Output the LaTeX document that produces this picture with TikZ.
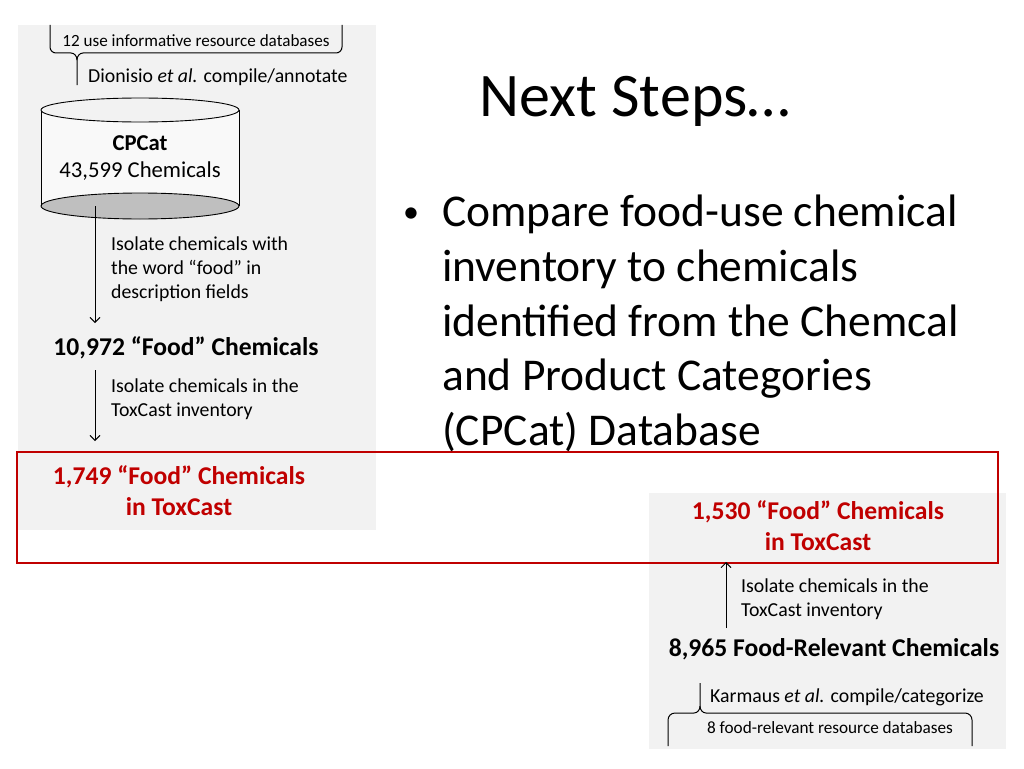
\documentclass[tikz,border=0pt]{standalone}
\usepackage{fontspec}
\setmainfont{Carlito}
\usetikzlibrary{arrows.meta}
\definecolor{panel}{HTML}{F2F2F2}
\definecolor{dbgray}{HTML}{BFBFBF}
\definecolor{redbox}{HTML}{C00000}
\begin{document}
\begin{tikzpicture}[x=1pt,y=-1pt,
  lab/.style={inner sep=0pt,anchor=west,align=left,font=\fontsize{19.8}{24}\selectfont},
  big/.style={inner sep=0pt,font=\fontsize{25.6}{31}\selectfont\bfseries},
  redlab/.style={big,text=redbox,align=center},
  flow/.style={line width=0.9pt,-{Straight Barb[length=5pt,width=10pt]}},
  brace/.style={line width=1pt}]
\useasboundingbox (0,0) rectangle (1024,768);
\fill[white] (0,0) rectangle (1024,768);
% panels
\fill[panel] (18,25) rectangle (376,530);
\fill[panel] (649,493) rectangle (1006,749);
% top brace
\node[lab,anchor=center,font=\fontsize{17.1}{20}\selectfont] (db12) at (196,41) {12 use informative resource databases};
\draw[brace] (50,25) -- (50,47) to[out=-90,in=180] (56,53) -- (71,53) to[out=0,in=90] (77,60) -- (77,85);
\draw[brace] (77,60) to[out=90,in=180] (83,53) -- (336,53) to[out=0,in=-90] (342,47) -- (342,25);
\node[lab] (dion) at (88,77) {Dionisio \textit{et al.} compile/annotate};
% cylinder
\fill[white!50!panel] (41,110) -- (41,206) arc[start angle=180,end angle=360,x radius=99,y radius=13] -- (239,110) -- cycle;
\draw[line width=0.9pt,fill=dbgray] (140,206) ellipse[x radius=99,y radius=13];
\draw[line width=0.9pt] (41,110) -- (41,206) (239,110) -- (239,206);
\draw[line width=0.9pt,fill=panel] (140,110) ellipse[x radius=99,y radius=12];
\node[inner sep=0pt,align=center,font=\fontsize{22.7}{27}\selectfont] (cpcat) at (140,158) {\textbf{CPCat}\\43,599 Chemicals};
\coordinate (a1s) at (95,206);
\node[big] (f10972) at (186,348) {10,972 “Food” Chemicals};
\coordinate (a1e) at (95,323);
\draw[flow] (a1s) -- (a1e);
\node[lab] (iso1) at (111,269) {Isolate chemicals with\\the word “food” in\\description fields};
\coordinate (a2s) at (95,370);
\coordinate (a2e) at (95,441);
\draw[flow] (a2s) -- (a2e);
\node[lab] (iso2) at (111,399) {Isolate chemicals in the\\ToxCast inventory};
\node[redlab] (r1749) at (179,491) {1,749 “Food” Chemicals\\in ToxCast};
% red box
\draw[redbox,line width=2pt] (17,452) rectangle (998,563);
% right side
\node[redlab] (r1530) at (818,526) {1,530 “Food” Chemicals\\in ToxCast};
\node[big] (f8965) at (834,649) {8,965 Food-Relevant Chemicals};
\coordinate (a3s) at (726,628);
\coordinate (a3e) at (726,562);
\draw[flow] (a3s) -- (a3e);
\node[lab] (iso3) at (741,599) {Isolate chemicals in the\\ToxCast inventory};
\node[lab] (karm) at (710,697) {Karmaus \textit{et al.} compile/categorize};
\draw[brace] (700,683) -- (700,706) to[out=-90,in=0] (694,713) -- (675,713) to[out=180,in=90] (668,720) -- (668,746);
\draw[brace] (700,706) to[out=-90,in=180] (706,713) -- (965,713) to[out=0,in=90] (972,720) -- (972,746);
\node[lab,anchor=center,font=\fontsize{17.2}{20}\selectfont] (db8) at (830,728) {8 food-relevant resource databases};
% title and bullet
\node[inner sep=0pt,font=\fontsize{62}{70}\selectfont] (title) at (635,101) {Next Steps…};
\node[inner sep=0pt,anchor=north west,align=left,font=\fontsize{45.5}{54.7}\selectfont] (bul) at (442,195) {Compare food-use chemical\\inventory to chemicals\\identified from the Chemcal\\and Product Categories\\(CPCat) Database};
\node[inner sep=0pt,font=\fontsize{32}{36}\selectfont] (dot) at (411,215) {•};
\end{tikzpicture}
\end{document}
